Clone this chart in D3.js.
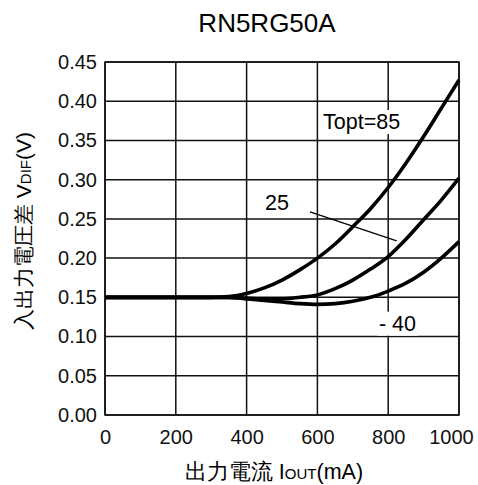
<!DOCTYPE html>
<html>
<head>
<meta charset="utf-8">
<script src="https://cdn.jsdelivr.net/npm/d3@7"></script>
<style>
  body { margin: 0; background: #fff; }
  svg { display: block; font-family: "Liberation Sans", Arial, sans-serif; }
</style>
</head>
<body>
<svg id="chart" width="478" height="485"></svg>
<script>
// values
const iout = [0, 100, 200, 300, 350, 400, 450, 500, 550, 600, 650, 700, 750, 800, 850, 900, 950, 1000];
const vdif85 = [0.15, 0.15, 0.15, 0.15, 0.151, 0.155, 0.162, 0.172, 0.185, 0.200, 0.218, 0.240, 0.263, 0.290, 0.321, 0.355, 0.391, 0.427];
const vdif25 = [0.15, 0.15, 0.15, 0.15, 0.150, 0.149, 0.148, 0.148, 0.150, 0.153, 0.161, 0.172, 0.186, 0.202, 0.224, 0.249, 0.274, 0.302];
const vdifM40 = [0.15, 0.15, 0.15, 0.15, 0.150, 0.148, 0.146, 0.144, 0.142, 0.141, 0.142, 0.145, 0.150, 0.158, 0.168, 0.182, 0.200, 0.221];
const xTicks = [0, 200, 400, 600, 800, 1000];
const yTicks = [0, 0.05, 0.10, 0.15, 0.20, 0.25, 0.30, 0.35, 0.40, 0.45];

const margin = { top: 62, right: 19, bottom: 70, left: 105 };
const W = 478, H = 485;
const width = W - margin.left - margin.right;
const height = H - margin.top - margin.bottom;

const svg = d3.select('#chart');
const g = svg.append('g').attr('transform', `translate(${margin.left},${margin.top})`);

const x = d3.scaleLinear().domain([0, 1000]).range([0, width]);
const y = d3.scaleLinear().domain([0, 0.45]).range([height, 0]);

// grid
g.append('g').selectAll('line').data(xTicks).enter().append('line')
  .attr('x1', d => x(d)).attr('x2', d => x(d))
  .attr('y1', 0).attr('y2', height)
  .attr('stroke', '#111').attr('stroke-width', 1.5);
g.append('g').selectAll('line').data(yTicks).enter().append('line')
  .attr('x1', 0).attr('x2', width)
  .attr('y1', d => y(d)).attr('y2', d => y(d))
  .attr('stroke', '#111').attr('stroke-width', 1.5);
g.append('rect').attr('width', width).attr('height', height)
  .attr('fill', 'none').attr('stroke', '#111').attr('stroke-width', 1.5);

// axes (labels only)
const xAxis = g.append('g').attr('transform', `translate(0,${height})`)
  .call(d3.axisBottom(x).tickValues(xTicks).tickSize(0).tickPadding(15).tickFormat(d3.format('d')));
const yAxis = g.append('g')
  .call(d3.axisLeft(y).tickValues(yTicks).tickSize(0).tickPadding(8).tickFormat(d3.format('.2f')));
[xAxis, yAxis].forEach(a => {
  a.select('.domain').remove();
  a.selectAll('text').attr('font-size', 20).attr('fill', '#111').attr('font-family', '"Liberation Sans", Arial, sans-serif');
});
// last x label sits pulled in from the right edge
xAxis.selectAll('.tick text').filter(d => d === 1000).attr('dx', -8);

// curves
const line = d3.line().x(d => x(d[0])).y(d => y(d[1])).curve(d3.curveMonotoneX);
[vdif85, vdif25, vdifM40].forEach(vals => {
  g.append('path').datum(iout.map((v, i) => [v, vals[i]]))
    .attr('d', line).attr('fill', 'none')
    .attr('stroke', '#000').attr('stroke-width', 3.6).attr('stroke-linecap', 'butt');
});

// leader line for 25
g.append('line')
  .attr('x1', x(579)).attr('y1', y(0.259))
  .attr('x2', x(824)).attr('y2', y(0.222))
  .attr('stroke', '#000').attr('stroke-width', 1.3);

// curve labels
const label = (txt, xv, yv, box) => {
  const t = g.append('text').attr('x', x(xv)).attr('y', y(yv))
    .attr('font-size', 21.5).attr('fill', '#000').text(txt);
  if (box) {
    const b = t.node().getBBox();
    g.insert('rect', () => t.node())
      .attr('x', b.x - 2).attr('y', b.y).attr('width', b.width + 4).attr('height', b.height)
      .attr('fill', '#fff');
  }
};
label('Topt=85', 616, 0.3645, true);
label('25', 452, 0.2615, false);
label('- 40', 774, 0.1075, true);

// title
svg.append('text').attr('x', 267).attr('y', 32).attr('text-anchor', 'middle')
  .attr('font-size', 26).attr('fill', '#000').text('RN5RG50A');

// x label
const xl = svg.append('text').attr('x', 274).attr('y', 479).attr('text-anchor', 'middle')
  .attr('font-size', 21.5).attr('fill', '#000');
xl.append('tspan').text('出力電流 I');
xl.append('tspan').attr('font-size', 15).text('OUT');
xl.append('tspan').text('(mA)');

// y label
const yl = svg.append('text').attr('transform', 'translate(31,231) rotate(-90)')
  .attr('text-anchor', 'middle').attr('font-size', 21).attr('fill', '#000');
yl.append('tspan').text('入出力電圧差 V');
yl.append('tspan').attr('font-size', 15).text('DIF');
yl.append('tspan').text('(V)');
</script>
</body>
</html>
